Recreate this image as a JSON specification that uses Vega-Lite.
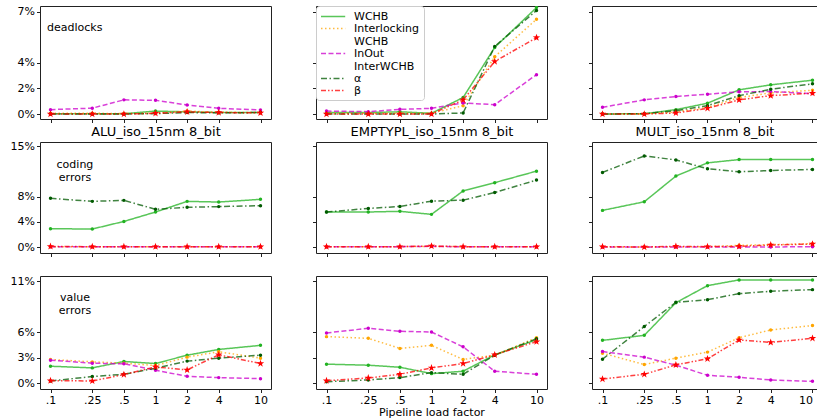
{
"$schema": "https://vega.github.io/schema/vega-lite/v6.json",
"padding": {"left": 9, "top": 5, "right": 0, "bottom": 0},
"bounds": "flush",
"align": "each",
"columns": 3,
"spacing": {"row": 23, "column": 45},
"datasets": {
"ad": [
{"series":"WCHB","load":0.1,"pct":0.02},{"series":"WCHB","load":0.25,"pct":0.02},{"series":"WCHB","load":0.5,"pct":0.02},{"series":"WCHB","load":1,"pct":0.2},{"series":"WCHB","load":2,"pct":0.15},{"series":"WCHB","load":4,"pct":0.1},{"series":"WCHB","load":10,"pct":0.1},
{"series":"Interlocking WCHB","load":0.1,"pct":0.05},{"series":"Interlocking WCHB","load":0.25,"pct":0.05},{"series":"Interlocking WCHB","load":0.5,"pct":0.03},{"series":"Interlocking WCHB","load":1,"pct":0.05},{"series":"Interlocking WCHB","load":2,"pct":0.2},{"series":"Interlocking WCHB","load":4,"pct":0.12},{"series":"Interlocking WCHB","load":10,"pct":0.1},
{"series":"InOut InterWCHB","load":0.1,"pct":0.3},{"series":"InOut InterWCHB","load":0.25,"pct":0.4},{"series":"InOut InterWCHB","load":0.5,"pct":0.97},{"series":"InOut InterWCHB","load":1,"pct":0.94},{"series":"InOut InterWCHB","load":2,"pct":0.62},{"series":"InOut InterWCHB","load":4,"pct":0.39},{"series":"InOut InterWCHB","load":10,"pct":0.28},
{"series":"α","load":0.1,"pct":0},{"series":"α","load":0.25,"pct":0},{"series":"α","load":0.5,"pct":0},{"series":"α","load":1,"pct":0.03},{"series":"α","load":2,"pct":0.1},{"series":"α","load":4,"pct":0.08},{"series":"α","load":10,"pct":0.1},
{"series":"β","load":0.1,"pct":0},{"series":"β","load":0.25,"pct":0},{"series":"β","load":0.5,"pct":0},{"series":"β","load":1,"pct":0.05},{"series":"β","load":2,"pct":0.15},{"series":"β","load":4,"pct":0.1},{"series":"β","load":10,"pct":0.08}
],
"ed": [
{"series":"WCHB","load":0.1,"pct":0.1},{"series":"WCHB","load":0.25,"pct":0.1},{"series":"WCHB","load":0.5,"pct":0.15},{"series":"WCHB","load":1,"pct":0.05},{"series":"WCHB","load":2,"pct":1.13},{"series":"WCHB","load":4,"pct":4.57},{"series":"WCHB","load":10,"pct":7.3},
{"series":"Interlocking WCHB","load":0.1,"pct":0.05},{"series":"Interlocking WCHB","load":0.25,"pct":0.05},{"series":"Interlocking WCHB","load":0.5,"pct":0.05},{"series":"Interlocking WCHB","load":1,"pct":0.05},{"series":"Interlocking WCHB","load":2,"pct":0.57},{"series":"Interlocking WCHB","load":4,"pct":3.93},{"series":"Interlocking WCHB","load":10,"pct":6.5},
{"series":"InOut InterWCHB","load":0.1,"pct":0.2},{"series":"InOut InterWCHB","load":0.25,"pct":0.16},{"series":"InOut InterWCHB","load":0.5,"pct":0.32},{"series":"InOut InterWCHB","load":1,"pct":0.39},{"series":"InOut InterWCHB","load":2,"pct":0.76},{"series":"InOut InterWCHB","load":4,"pct":0.64},{"series":"InOut InterWCHB","load":10,"pct":2.7},
{"series":"α","load":0.1,"pct":0},{"series":"α","load":0.25,"pct":0},{"series":"α","load":0.5,"pct":0},{"series":"α","load":1,"pct":0},{"series":"α","load":2,"pct":0.07},{"series":"α","load":4,"pct":4.64},{"series":"α","load":10,"pct":7.1},
{"series":"β","load":0.1,"pct":0},{"series":"β","load":0.25,"pct":0},{"series":"β","load":0.5,"pct":0},{"series":"β","load":1,"pct":0},{"series":"β","load":2,"pct":0.97},{"series":"β","load":4,"pct":3.6},{"series":"β","load":10,"pct":5.24}
],
"md": [
{"series":"WCHB","load":0.1,"pct":0},{"series":"WCHB","load":0.25,"pct":0.02},{"series":"WCHB","load":0.5,"pct":0.3},{"series":"WCHB","load":1,"pct":0.74},{"series":"WCHB","load":2,"pct":1.66},{"series":"WCHB","load":4,"pct":2.0},{"series":"WCHB","load":10,"pct":2.32},
{"series":"Interlocking WCHB","load":0.1,"pct":0},{"series":"Interlocking WCHB","load":0.25,"pct":0},{"series":"Interlocking WCHB","load":0.5,"pct":0.14},{"series":"Interlocking WCHB","load":1,"pct":0.44},{"series":"Interlocking WCHB","load":2,"pct":1.13},{"series":"Interlocking WCHB","load":4,"pct":1.45},{"series":"Interlocking WCHB","load":10,"pct":1.63},
{"series":"InOut InterWCHB","load":0.1,"pct":0.46},{"series":"InOut InterWCHB","load":0.25,"pct":0.97},{"series":"InOut InterWCHB","load":0.5,"pct":1.2},{"series":"InOut InterWCHB","load":1,"pct":1.36},{"series":"InOut InterWCHB","load":2,"pct":1.52},{"series":"InOut InterWCHB","load":4,"pct":1.54},{"series":"InOut InterWCHB","load":10,"pct":1.4},
{"series":"α","load":0.1,"pct":0},{"series":"α","load":0.25,"pct":0.02},{"series":"α","load":0.5,"pct":0.23},{"series":"α","load":1,"pct":0.57},{"series":"α","load":2,"pct":1.26},{"series":"α","load":4,"pct":1.7},{"series":"α","load":10,"pct":2.07},
{"series":"β","load":0.1,"pct":0},{"series":"β","load":0.25,"pct":0},{"series":"β","load":0.5,"pct":0.07},{"series":"β","load":1,"pct":0.39},{"series":"β","load":2,"pct":0.97},{"series":"β","load":4,"pct":1.26},{"series":"β","load":10,"pct":1.43}
],
"ac": [
{"series":"WCHB","load":0.1,"pct":2.72},{"series":"WCHB","load":0.25,"pct":2.67},{"series":"WCHB","load":0.5,"pct":3.8},{"series":"WCHB","load":1,"pct":5.2},{"series":"WCHB","load":2,"pct":6.78},{"series":"WCHB","load":4,"pct":6.68},{"series":"WCHB","load":10,"pct":7.08},
{"series":"Interlocking WCHB","load":0.1,"pct":0.05},{"series":"Interlocking WCHB","load":0.25,"pct":0.05},{"series":"Interlocking WCHB","load":0.5,"pct":0.05},{"series":"Interlocking WCHB","load":1,"pct":0.05},{"series":"Interlocking WCHB","load":2,"pct":0.05},{"series":"Interlocking WCHB","load":4,"pct":0.05},{"series":"Interlocking WCHB","load":10,"pct":0.05},
{"series":"InOut InterWCHB","load":0.1,"pct":0.03},{"series":"InOut InterWCHB","load":0.25,"pct":0.03},{"series":"InOut InterWCHB","load":0.5,"pct":0.03},{"series":"InOut InterWCHB","load":1,"pct":0.03},{"series":"InOut InterWCHB","load":2,"pct":0.03},{"series":"InOut InterWCHB","load":4,"pct":0.03},{"series":"InOut InterWCHB","load":10,"pct":0.03},
{"series":"α","load":0.1,"pct":7.23},{"series":"α","load":0.25,"pct":6.78},{"series":"α","load":0.5,"pct":6.93},{"series":"α","load":1,"pct":5.6},{"series":"α","load":2,"pct":5.9},{"series":"α","load":4,"pct":6.0},{"series":"α","load":10,"pct":6.14},
{"series":"β","load":0.1,"pct":0.08},{"series":"β","load":0.25,"pct":0.05},{"series":"β","load":0.5,"pct":0.05},{"series":"β","load":1,"pct":0.05},{"series":"β","load":2,"pct":0.05},{"series":"β","load":4,"pct":0.05},{"series":"β","load":10,"pct":0.05}
],
"ec": [
{"series":"WCHB","load":0.1,"pct":5.2},{"series":"WCHB","load":0.25,"pct":5.2},{"series":"WCHB","load":0.5,"pct":5.3},{"series":"WCHB","load":1,"pct":4.85},{"series":"WCHB","load":2,"pct":8.33},{"series":"WCHB","load":4,"pct":9.56},{"series":"WCHB","load":10,"pct":11.27},
{"series":"Interlocking WCHB","load":0.1,"pct":0.05},{"series":"Interlocking WCHB","load":0.25,"pct":0.05},{"series":"Interlocking WCHB","load":0.5,"pct":0.05},{"series":"Interlocking WCHB","load":1,"pct":0.1},{"series":"Interlocking WCHB","load":2,"pct":0.05},{"series":"Interlocking WCHB","load":4,"pct":0.05},{"series":"Interlocking WCHB","load":10,"pct":0.05},
{"series":"InOut InterWCHB","load":0.1,"pct":0.03},{"series":"InOut InterWCHB","load":0.25,"pct":0.03},{"series":"InOut InterWCHB","load":0.5,"pct":0.05},{"series":"InOut InterWCHB","load":1,"pct":0.1},{"series":"InOut InterWCHB","load":2,"pct":0.03},{"series":"InOut InterWCHB","load":4,"pct":0.03},{"series":"InOut InterWCHB","load":10,"pct":0.03},
{"series":"α","load":0.1,"pct":5.2},{"series":"α","load":0.25,"pct":5.73},{"series":"α","load":0.5,"pct":6.03},{"series":"α","load":1,"pct":6.81},{"series":"α","load":2,"pct":6.96},{"series":"α","load":4,"pct":8.09},{"series":"α","load":10,"pct":9.95},
{"series":"β","load":0.1,"pct":0.05},{"series":"β","load":0.25,"pct":0.05},{"series":"β","load":0.5,"pct":0.05},{"series":"β","load":1,"pct":0.15},{"series":"β","load":2,"pct":0.05},{"series":"β","load":4,"pct":0.05},{"series":"β","load":10,"pct":0.05}
],
"mc": [
{"series":"WCHB","load":0.1,"pct":5.44},{"series":"WCHB","load":0.25,"pct":6.72},{"series":"WCHB","load":0.5,"pct":10.54},{"series":"WCHB","load":1,"pct":12.5},{"series":"WCHB","load":2,"pct":12.99},{"series":"WCHB","load":4,"pct":12.99},{"series":"WCHB","load":10,"pct":12.99},
{"series":"Interlocking WCHB","load":0.1,"pct":0},{"series":"Interlocking WCHB","load":0.25,"pct":0},{"series":"Interlocking WCHB","load":0.5,"pct":0.05},{"series":"Interlocking WCHB","load":1,"pct":0.05},{"series":"Interlocking WCHB","load":2,"pct":0.25},{"series":"Interlocking WCHB","load":4,"pct":0.34},{"series":"Interlocking WCHB","load":10,"pct":0.5},
{"series":"InOut InterWCHB","load":0.1,"pct":0},{"series":"InOut InterWCHB","load":0.25,"pct":0},{"series":"InOut InterWCHB","load":0.5,"pct":0},{"series":"InOut InterWCHB","load":1,"pct":0},{"series":"InOut InterWCHB","load":2,"pct":0},{"series":"InOut InterWCHB","load":4,"pct":0},{"series":"InOut InterWCHB","load":10,"pct":0.05},
{"series":"α","load":0.1,"pct":11.08},{"series":"α","load":0.25,"pct":13.53},{"series":"α","load":0.5,"pct":12.94},{"series":"α","load":1,"pct":11.62},{"series":"α","load":2,"pct":11.18},{"series":"α","load":4,"pct":11.37},{"series":"α","load":10,"pct":11.52},
{"series":"β","load":0.1,"pct":0.05},{"series":"β","load":0.25,"pct":0},{"series":"β","load":0.5,"pct":0.1},{"series":"β","load":1,"pct":0.05},{"series":"β","load":2,"pct":0.1},{"series":"β","load":4,"pct":0.3},{"series":"β","load":10,"pct":0.44}
],
"av": [
{"series":"WCHB","load":0.1,"pct":1.81},{"series":"WCHB","load":0.25,"pct":1.63},{"series":"WCHB","load":0.5,"pct":2.32},{"series":"WCHB","load":1,"pct":2.1},{"series":"WCHB","load":2,"pct":3.0},{"series":"WCHB","load":4,"pct":3.62},{"series":"WCHB","load":10,"pct":4.06},
{"series":"Interlocking WCHB","load":0.1,"pct":2.54},{"series":"Interlocking WCHB","load":0.25,"pct":2.28},{"series":"Interlocking WCHB","load":0.5,"pct":2.14},{"series":"Interlocking WCHB","load":1,"pct":1.88},{"series":"Interlocking WCHB","load":2,"pct":2.79},{"series":"Interlocking WCHB","load":4,"pct":3.37},{"series":"Interlocking WCHB","load":10,"pct":2.68},
{"series":"InOut InterWCHB","load":0.1,"pct":2.46},{"series":"InOut InterWCHB","load":0.25,"pct":2.14},{"series":"InOut InterWCHB","load":0.5,"pct":2.07},{"series":"InOut InterWCHB","load":1,"pct":1.38},{"series":"InOut InterWCHB","load":2,"pct":0.72},{"series":"InOut InterWCHB","load":4,"pct":0.58},{"series":"InOut InterWCHB","load":10,"pct":0.47},
{"series":"α","load":0.1,"pct":0.22},{"series":"α","load":0.25,"pct":0.69},{"series":"α","load":0.5,"pct":0.94},{"series":"α","load":1,"pct":1.59},{"series":"α","load":2,"pct":2.36},{"series":"α","load":4,"pct":2.68},{"series":"α","load":10,"pct":3.0},
{"series":"β","load":0.1,"pct":0.25},{"series":"β","load":0.25,"pct":0.22},{"series":"β","load":0.5,"pct":0.91},{"series":"β","load":1,"pct":1.74},{"series":"β","load":2,"pct":1.41},{"series":"β","load":4,"pct":3.04},{"series":"β","load":10,"pct":2.1}
],
"ev": [
{"series":"WCHB","load":0.1,"pct":2.03},{"series":"WCHB","load":0.25,"pct":1.92},{"series":"WCHB","load":0.5,"pct":1.7},{"series":"WCHB","load":1,"pct":1.01},{"series":"WCHB","load":2,"pct":1.27},{"series":"WCHB","load":4,"pct":3.04},{"series":"WCHB","load":10,"pct":4.67},
{"series":"Interlocking WCHB","load":0.1,"pct":5.0},{"series":"Interlocking WCHB","load":0.25,"pct":4.82},{"series":"Interlocking WCHB","load":0.5,"pct":3.73},{"series":"Interlocking WCHB","load":1,"pct":4.06},{"series":"Interlocking WCHB","load":2,"pct":2.54},{"series":"Interlocking WCHB","load":4,"pct":3.0},{"series":"Interlocking WCHB","load":10,"pct":4.89},
{"series":"InOut InterWCHB","load":0.1,"pct":5.4},{"series":"InOut InterWCHB","load":0.25,"pct":5.9},{"series":"InOut InterWCHB","load":0.5,"pct":5.58},{"series":"InOut InterWCHB","load":1,"pct":5.5},{"series":"InOut InterWCHB","load":2,"pct":3.9},{"series":"InOut InterWCHB","load":4,"pct":1.27},{"series":"InOut InterWCHB","load":10,"pct":0.94},
{"series":"α","load":0.1,"pct":0.14},{"series":"α","load":0.25,"pct":0.33},{"series":"α","load":0.5,"pct":0.58},{"series":"α","load":1,"pct":1.12},{"series":"α","load":2,"pct":0.94},{"series":"α","load":4,"pct":3.0},{"series":"α","load":10,"pct":4.78},
{"series":"β","load":0.1,"pct":0.25},{"series":"β","load":0.25,"pct":0.54},{"series":"β","load":0.5,"pct":0.94},{"series":"β","load":1,"pct":1.63},{"series":"β","load":2,"pct":2.1},{"series":"β","load":4,"pct":3.04},{"series":"β","load":10,"pct":4.46}
],
"mv": [
{"series":"WCHB","load":0.1,"pct":4.6},{"series":"WCHB","load":0.25,"pct":5.14},{"series":"WCHB","load":0.5,"pct":8.66},{"series":"WCHB","load":1,"pct":10.5},{"series":"WCHB","load":2,"pct":11.12},{"series":"WCHB","load":4,"pct":11.12},{"series":"WCHB","load":10,"pct":11.12},
{"series":"Interlocking WCHB","load":0.1,"pct":3.22},{"series":"Interlocking WCHB","load":0.25,"pct":1.99},{"series":"Interlocking WCHB","load":0.5,"pct":2.68},{"series":"Interlocking WCHB","load":1,"pct":3.33},{"series":"Interlocking WCHB","load":2,"pct":4.89},{"series":"Interlocking WCHB","load":4,"pct":5.72},{"series":"Interlocking WCHB","load":10,"pct":6.2},
{"series":"InOut InterWCHB","load":0.1,"pct":3.4},{"series":"InOut InterWCHB","load":0.25,"pct":2.79},{"series":"InOut InterWCHB","load":0.5,"pct":1.92},{"series":"InOut InterWCHB","load":1,"pct":0.83},{"series":"InOut InterWCHB","load":2,"pct":0.62},{"series":"InOut InterWCHB","load":4,"pct":0.33},{"series":"InOut InterWCHB","load":10,"pct":0.18},
{"series":"α","load":0.1,"pct":2.57},{"series":"α","load":0.25,"pct":6.09},{"series":"α","load":0.5,"pct":8.7},{"series":"α","load":1,"pct":8.99},{"series":"α","load":2,"pct":9.64},{"series":"α","load":4,"pct":9.89},{"series":"α","load":10,"pct":10.07},
{"series":"β","load":0.1,"pct":0.43},{"series":"β","load":0.25,"pct":0.94},{"series":"β","load":0.5,"pct":1.96},{"series":"β","load":1,"pct":2.61},{"series":"β","load":2,"pct":4.64},{"series":"β","load":4,"pct":4.38},{"series":"β","load":10,"pct":4.82}
]
},
"concat": [
 {"width": 231, "height": 113,
  "encoding": {
   "x": {"field":"load","type":"quantitative","scale":{"type":"log","domain":[0.07943,12.589],"nice":false},"axis":{"values":[0.1,0.25,0.5,1,2,4,10],"labels":false,"title":"ALU_iso_15nm 8_bit","titleFontSize":13,"titlePadding":2}},
   "y": {"field":"pct","type":"quantitative","scale":{"domain":[-0.343,7.41],"nice":false,"zero":false},"axis":{"values":[0,1.75,3.5,7],"labelExpr":"round(datum.value) + '%'","title":null}}
  },
  "layer": [
   {"data":{"name":"ad"},"mark":{"type":"line","strokeWidth":1.5,"opacity":0.75,"clip":true},
    "encoding":{
     "color":{"field":"series","type":"nominal","scale":{"domain":["WCHB","Interlocking WCHB","InOut InterWCHB","α","β"],"range":["#22b322","#ffa500","#cc00cc","#005a00","#ff0000"]},
       "legend":{"orient":"none","legendX":276,"legendY":0,"title":null,"symbolType":"M-1,0H3.4","symbolSize":121,"symbolStrokeWidth":1.5,"labelOffset":21,"labelFontSize":11,"labelFont":"DejaVu Sans","labelColor":"black","padding":4,"rowPadding":0,"strokeColor":"#cccccc","fillColor":"white","cornerRadius":3,"labelLimit":200,
       "labelExpr":"datum.label == 'Interlocking WCHB' ? ['Interlocking','WCHB'] : datum.label == 'InOut InterWCHB' ? ['InOut','InterWCHB'] : datum.label",
       "encode":{"symbols":{"update":{"shape":{"value":"M-1,0H3.4"},"size":{"value":121},"fill":{"value":"transparent"},"strokeWidth":{"value":1.5},"opacity":{"value":0.85}}},"labels":{"update":{"lineHeight":{"value":12}}}}}},
     "strokeDash":{"field":"series","type":"nominal","scale":{"domain":["WCHB","Interlocking WCHB","InOut InterWCHB","α","β"],"range":[[1,0],[1.5,2.5],[5,2.5],[6,2.5,1.5,2.5],[5,2,1.5,2,1.5,2]]}}
    }},
   {"data":{"name":"ad"},"transform":[{"filter":"datum.series != 'β'"}],"mark":{"type":"circle","size":12,"opacity":1,"clip":true},
    "encoding":{"fill":{"field":"series","type":"nominal","scale":{"domain":["β","α","InOut InterWCHB","Interlocking WCHB","WCHB"],"range":["#ff0000","#005a00","#cc00cc","#ffa500","#22b322"]},"legend":null}}},
   {"data":{"name":"ad"},"transform":[{"filter":"datum.series == 'β'"}],"mark":{"type":"point","shape":"M0,-1L0.235,-0.324L0.951,-0.309L0.38,0.124L0.588,0.809L0,0.4L-0.588,0.809L-0.38,0.124L-0.951,-0.309L-0.235,-0.324Z","filled":true,"size":60,"color":"#ff0000","opacity":1,"strokeWidth":0,"clip":true}},
   {"data":{"values":[{"load":0.0927,"pct":5.9,"note":"deadlocks"}]},"mark":{"type":"text","align":"left","baseline":"middle","fontSize":11,"font":"DejaVu Sans","color":"black"},"encoding":{"text":{"field":"note","type":"nominal"}}}
  ]},
 {"width": 231, "height": 113,
  "encoding": {
   "x": {"field":"load","type":"quantitative","scale":{"type":"log","domain":[0.07943,12.589],"nice":false},"axis":{"values":[0.1,0.25,0.5,1,2,4,10],"labels":false,"title":"EMPTYPL_iso_15nm 8_bit","titleFontSize":13,"titlePadding":2}},
   "y": {"field":"pct","type":"quantitative","scale":{"domain":[-0.343,7.41],"nice":false,"zero":false},"axis":{"values":[0,1.75,3.5,7],"labels":false,"title":null}}
  },
  "layer": [
   {"data":{"name":"ed"},"mark":{"type":"line","strokeWidth":1.5,"opacity":0.75,"clip":true},
    "encoding":{"color":{"field":"series","type":"nominal"},"strokeDash":{"field":"series","type":"nominal"}}},
   {"data":{"name":"ed"},"transform":[{"filter":"datum.series != 'β'"}],"mark":{"type":"circle","size":12,"opacity":1,"clip":true},
    "encoding":{"fill":{"field":"series","type":"nominal","legend":null}}},
   {"data":{"name":"ed"},"transform":[{"filter":"datum.series == 'β'"}],"mark":{"type":"point","shape":"M0,-1L0.235,-0.324L0.951,-0.309L0.38,0.124L0.588,0.809L0,0.4L-0.588,0.809L-0.38,0.124L-0.951,-0.309L-0.235,-0.324Z","filled":true,"size":60,"color":"#ff0000","opacity":1,"strokeWidth":0,"clip":true}}
  ]},
 {"width": 225, "height": 113,
  "encoding": {
   "x": {"field":"load","type":"quantitative","scale":{"type":"log","domain":[0.07943,11.04],"nice":false},"axis":{"values":[0.1,0.25,0.5,1,2,4,10],"labels":false,"title":"MULT_iso_15nm 8_bit","titleFontSize":13,"titlePadding":2}},
   "y": {"field":"pct","type":"quantitative","scale":{"domain":[-0.343,7.41],"nice":false,"zero":false},"axis":{"values":[0,1.75,3.5,7],"labels":false,"title":null}}
  },
  "layer": [
   {"data":{"name":"md"},"mark":{"type":"line","strokeWidth":1.5,"opacity":0.75,"clip":true},
    "encoding":{"color":{"field":"series","type":"nominal"},"strokeDash":{"field":"series","type":"nominal"}}},
   {"data":{"name":"md"},"transform":[{"filter":"datum.series != 'β'"}],"mark":{"type":"circle","size":12,"opacity":1,"clip":true},
    "encoding":{"fill":{"field":"series","type":"nominal","legend":null}}},
   {"data":{"name":"md"},"transform":[{"filter":"datum.series == 'β'"}],"mark":{"type":"point","shape":"M0,-1L0.235,-0.324L0.951,-0.309L0.38,0.124L0.588,0.809L0,0.4L-0.588,0.809L-0.38,0.124L-0.951,-0.309L-0.235,-0.324Z","filled":true,"size":60,"color":"#ff0000","opacity":1,"strokeWidth":0,"clip":true}}
  ]},
 {"width": 231, "height": 111,
  "encoding": {
   "x": {"field":"load","type":"quantitative","scale":{"type":"log","domain":[0.07943,12.589],"nice":false},"axis":{"values":[0.1,0.25,0.5,1,2,4,10],"labels":false,"title":null}},
   "y": {"field":"pct","type":"quantitative","scale":{"domain":[-0.89,15.6],"nice":false,"zero":false},"axis":{"values":[0,3.75,7.5,15],"labelExpr":"round(datum.value) + '%'","title":null}}
  },
  "layer": [
   {"data":{"name":"ac"},"mark":{"type":"line","strokeWidth":1.5,"opacity":0.75,"clip":true},
    "encoding":{"color":{"field":"series","type":"nominal"},"strokeDash":{"field":"series","type":"nominal"}}},
   {"data":{"name":"ac"},"transform":[{"filter":"datum.series != 'β'"}],"mark":{"type":"circle","size":12,"opacity":1,"clip":true},
    "encoding":{"fill":{"field":"series","type":"nominal","legend":null}}},
   {"data":{"name":"ac"},"transform":[{"filter":"datum.series == 'β'"}],"mark":{"type":"point","shape":"M0,-1L0.235,-0.324L0.951,-0.309L0.38,0.124L0.588,0.809L0,0.4L-0.588,0.809L-0.38,0.124L-0.951,-0.309L-0.235,-0.324Z","filled":true,"size":60,"color":"#ff0000","opacity":1,"strokeWidth":0,"clip":true}},
   {"data":{"values":[{"load":0.171,"pct":12.25,"note":"coding\nerrors"}]},"mark":{"type":"text","align":"center","baseline":"middle","fontSize":11,"font":"DejaVu Sans","color":"black","lineBreak":"\n"},"encoding":{"text":{"field":"note","type":"nominal"}}}
  ]},
 {"width": 231, "height": 111,
  "encoding": {
   "x": {"field":"load","type":"quantitative","scale":{"type":"log","domain":[0.07943,12.589],"nice":false},"axis":{"values":[0.1,0.25,0.5,1,2,4,10],"labels":false,"title":null}},
   "y": {"field":"pct","type":"quantitative","scale":{"domain":[-0.89,15.6],"nice":false,"zero":false},"axis":{"values":[0,3.75,7.5,15],"labels":false,"title":null}}
  },
  "layer": [
   {"data":{"name":"ec"},"mark":{"type":"line","strokeWidth":1.5,"opacity":0.75,"clip":true},
    "encoding":{"color":{"field":"series","type":"nominal"},"strokeDash":{"field":"series","type":"nominal"}}},
   {"data":{"name":"ec"},"transform":[{"filter":"datum.series != 'β'"}],"mark":{"type":"circle","size":12,"opacity":1,"clip":true},
    "encoding":{"fill":{"field":"series","type":"nominal","legend":null}}},
   {"data":{"name":"ec"},"transform":[{"filter":"datum.series == 'β'"}],"mark":{"type":"point","shape":"M0,-1L0.235,-0.324L0.951,-0.309L0.38,0.124L0.588,0.809L0,0.4L-0.588,0.809L-0.38,0.124L-0.951,-0.309L-0.235,-0.324Z","filled":true,"size":60,"color":"#ff0000","opacity":1,"strokeWidth":0,"clip":true}}
  ]},
 {"width": 225, "height": 111,
  "encoding": {
   "x": {"field":"load","type":"quantitative","scale":{"type":"log","domain":[0.07943,11.04],"nice":false},"axis":{"values":[0.1,0.25,0.5,1,2,4,10],"labels":false,"title":null}},
   "y": {"field":"pct","type":"quantitative","scale":{"domain":[-0.89,15.6],"nice":false,"zero":false},"axis":{"values":[0,3.75,7.5,15],"labels":false,"title":null}}
  },
  "layer": [
   {"data":{"name":"mc"},"mark":{"type":"line","strokeWidth":1.5,"opacity":0.75,"clip":true},
    "encoding":{"color":{"field":"series","type":"nominal"},"strokeDash":{"field":"series","type":"nominal"}}},
   {"data":{"name":"mc"},"transform":[{"filter":"datum.series != 'β'"}],"mark":{"type":"circle","size":12,"opacity":1,"clip":true},
    "encoding":{"fill":{"field":"series","type":"nominal","legend":null}}},
   {"data":{"name":"mc"},"transform":[{"filter":"datum.series == 'β'"}],"mark":{"type":"point","shape":"M0,-1L0.235,-0.324L0.951,-0.309L0.38,0.124L0.588,0.809L0,0.4L-0.588,0.809L-0.38,0.124L-0.951,-0.309L-0.235,-0.324Z","filled":true,"size":60,"color":"#ff0000","opacity":1,"strokeWidth":0,"clip":true}}
  ]},
 {"width": 231, "height": 113,
  "encoding": {
   "x": {"field":"load","type":"quantitative","scale":{"type":"log","domain":[0.07943,12.589],"nice":false},"axis":{"values":[0.1,0.25,0.5,1,2,4,10],"labelExpr":"datum.value == 0.1 ? '.1' : datum.value == 0.25 ? '.25' : datum.value == 0.5 ? '.5' : datum.label","title":null}},
   "y": {"field":"pct","type":"quantitative","scale":{"domain":[-0.647,11.54],"nice":false,"zero":false},"axis":{"values":[0,2.75,5.5,11],"labelExpr":"round(datum.value) + '%'","title":null}}
  },
  "layer": [
   {"data":{"name":"av"},"mark":{"type":"line","strokeWidth":1.5,"opacity":0.75,"clip":true},
    "encoding":{"color":{"field":"series","type":"nominal"},"strokeDash":{"field":"series","type":"nominal"}}},
   {"data":{"name":"av"},"transform":[{"filter":"datum.series != 'β'"}],"mark":{"type":"circle","size":12,"opacity":1,"clip":true},
    "encoding":{"fill":{"field":"series","type":"nominal","legend":null}}},
   {"data":{"name":"av"},"transform":[{"filter":"datum.series == 'β'"}],"mark":{"type":"point","shape":"M0,-1L0.235,-0.324L0.951,-0.309L0.38,0.124L0.588,0.809L0,0.4L-0.588,0.809L-0.38,0.124L-0.951,-0.309L-0.235,-0.324Z","filled":true,"size":60,"color":"#ff0000","opacity":1,"strokeWidth":0,"clip":true}},
   {"data":{"values":[{"load":0.171,"pct":9.22,"note":"value\nerrors"}]},"mark":{"type":"text","align":"center","baseline":"middle","fontSize":11,"font":"DejaVu Sans","color":"black","lineBreak":"\n"},"encoding":{"text":{"field":"note","type":"nominal"}}}
  ]},
 {"width": 231, "height": 113,
  "encoding": {
   "x": {"field":"load","type":"quantitative","scale":{"type":"log","domain":[0.07943,12.589],"nice":false},"axis":{"values":[0.1,0.25,0.5,1,2,4,10],"labelExpr":"datum.value == 0.1 ? '.1' : datum.value == 0.25 ? '.25' : datum.value == 0.5 ? '.5' : datum.label","title":"Pipeline load factor"}},
   "y": {"field":"pct","type":"quantitative","scale":{"domain":[-0.647,11.54],"nice":false,"zero":false},"axis":{"values":[0,2.75,5.5,11],"labels":false,"title":null}}
  },
  "layer": [
   {"data":{"name":"ev"},"mark":{"type":"line","strokeWidth":1.5,"opacity":0.75,"clip":true},
    "encoding":{"color":{"field":"series","type":"nominal"},"strokeDash":{"field":"series","type":"nominal"}}},
   {"data":{"name":"ev"},"transform":[{"filter":"datum.series != 'β'"}],"mark":{"type":"circle","size":12,"opacity":1,"clip":true},
    "encoding":{"fill":{"field":"series","type":"nominal","legend":null}}},
   {"data":{"name":"ev"},"transform":[{"filter":"datum.series == 'β'"}],"mark":{"type":"point","shape":"M0,-1L0.235,-0.324L0.951,-0.309L0.38,0.124L0.588,0.809L0,0.4L-0.588,0.809L-0.38,0.124L-0.951,-0.309L-0.235,-0.324Z","filled":true,"size":60,"color":"#ff0000","opacity":1,"strokeWidth":0,"clip":true}}
  ]},
 {"width": 225, "height": 113,
  "encoding": {
   "x": {"field":"load","type":"quantitative","scale":{"type":"log","domain":[0.07943,11.04],"nice":false},"axis":{"values":[0.1,0.25,0.5,1,2,4,10],"labelExpr":"datum.value == 0.1 ? '.1' : datum.value == 0.25 ? '.25' : datum.value == 0.5 ? '.5' : datum.label","labelFlush":6,"title":null}},
   "y": {"field":"pct","type":"quantitative","scale":{"domain":[-0.647,11.54],"nice":false,"zero":false},"axis":{"values":[0,2.75,5.5,11],"labels":false,"title":null}}
  },
  "layer": [
   {"data":{"name":"mv"},"mark":{"type":"line","strokeWidth":1.5,"opacity":0.75,"clip":true},
    "encoding":{"color":{"field":"series","type":"nominal"},"strokeDash":{"field":"series","type":"nominal"}}},
   {"data":{"name":"mv"},"transform":[{"filter":"datum.series != 'β'"}],"mark":{"type":"circle","size":12,"opacity":1,"clip":true},
    "encoding":{"fill":{"field":"series","type":"nominal","legend":null}}},
   {"data":{"name":"mv"},"transform":[{"filter":"datum.series == 'β'"}],"mark":{"type":"point","shape":"M0,-1L0.235,-0.324L0.951,-0.309L0.38,0.124L0.588,0.809L0,0.4L-0.588,0.809L-0.38,0.124L-0.951,-0.309L-0.235,-0.324Z","filled":true,"size":60,"color":"#ff0000","opacity":1,"strokeWidth":0,"clip":true}}
  ]}
],
"config": {
 "font": "DejaVu Sans",
 "view": {"stroke": "#222222", "strokeWidth": 1},
 "axis": {"domain": false, "grid": false, "ticks": true, "tickColor": "#222222", "tickSize": 3.5, "labelFont": "DejaVu Sans", "labelFontSize": 11, "labelColor": "black", "labelPadding": 2, "titleFont": "DejaVu Sans", "titleFontSize": 11, "titleFontWeight": "normal", "titleColor": "black", "titlePadding": 1}
}
}
